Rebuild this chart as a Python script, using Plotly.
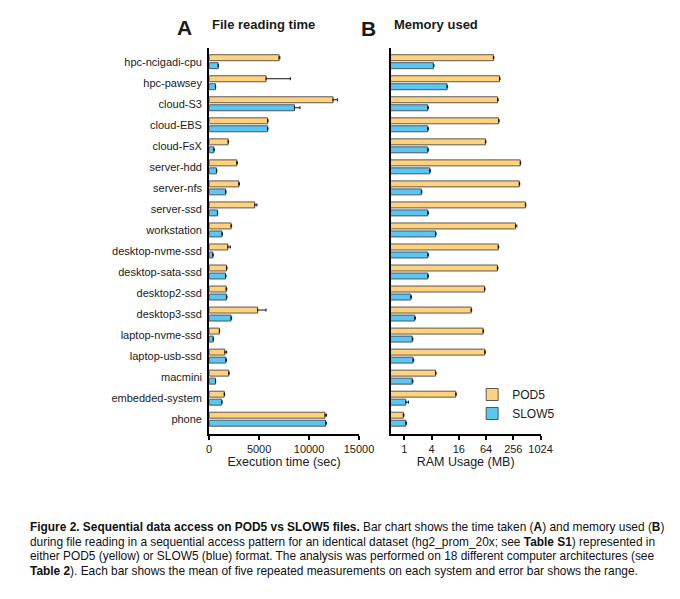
import plotly.graph_objects as go

systems = ["hpc-ncigadi-cpu", "hpc-pawsey", "cloud-S3", "cloud-EBS", "cloud-FsX",
           "server-hdd", "server-nfs", "server-ssd", "workstation", "desktop-nvme-ssd",
           "desktop-sata-ssd", "desktop2-ssd", "desktop3-ssd", "laptop-nvme-ssd",
           "laptop-usb-ssd", "macmini", "embedded-system", "phone"]

# Panel A: execution time (sec), mean and (max - mean)
pod5_time = [7000, 5700, 12400, 5850, 1900, 2770, 2970, 4560, 2190, 1870,
             1730, 1700, 4850, 1020, 1570, 1960, 1510, 11600]
pod5_time_err = [80, 2430, 450, 40, 40, 40, 50, 220, 60, 250,
                 60, 60, 840, 30, 180, 30, 40, 150]
slow5_time = [900, 630, 8540, 5850, 470, 730, 1640, 830, 1280, 370,
              1640, 1730, 2190, 400, 1670, 630, 1250, 11650]
slow5_time_err = [30, 20, 550, 30, 20, 30, 50, 20, 50, 20,
                  40, 50, 60, 20, 50, 20, 40, 80]

# Panel B: RAM usage (MB)
pod5_mem = [93, 127, 115, 121, 62, 365, 347, 474, 286, 119,
            114, 59, 30, 55, 60, 4.9, 13.7, 0.95]
pod5_mem_err = [2, 3, 3, 3, 1.5, 8, 8, 10, 20, 3,
                3, 1.5, 0.8, 1.5, 1.5, 0.1, 0.3, 0.03]
slow5_mem = [4.4, 8.8, 3.3, 3.3, 3.3, 3.65, 2.38, 3.3, 4.9, 3.3,
             3.3, 1.39, 1.7, 1.5, 1.56, 1.5, 1.08, 1.08]
slow5_mem_err = [0.1, 0.25, 0.08, 0.08, 0.08, 0.1, 0.06, 0.08, 0.12, 0.08,
                 0.08, 0.04, 0.05, 0.04, 0.05, 0.05, 0.15, 0.04]

time_ticks = [0, 5000, 10000, 15000]
mem_ticks = [1, 4, 16, 64, 256, 1024]

POD5_COLOR = "#FFD27F"
SLOW5_COLOR = "#5CC6F2"
EDGE = "#333333"
TXT = "#1a1a1a"
FONT = "Liberation Sans, Arial, sans-serif"

# the page body has an 8px margin on every side; size the figure so that the
# page does not overflow the 680x599 window, and lay out in window pixels
OFF = 8
W, H = 680 - 2 * OFF, 599 - 2 * OFF


def px_x(v):
    return (v - OFF) / W


def px_y(v):
    return 1 - (v - OFF) / H


fig = go.Figure()


def add_bars(x, err, name, color, xa, ya, show):
    fig.add_trace(go.Bar(
        y=systems, x=x, orientation="h", name=name,
        marker=dict(color=color, line=dict(color=EDGE, width=0.8)),
        error_x=dict(type="data", array=err, arrayminus=[0] * len(err),
                     symmetric=False, color="#111111", thickness=1, width=1.5),
        xaxis=xa, yaxis=ya, showlegend=show,
    ))


add_bars(pod5_time, pod5_time_err, "POD5", POD5_COLOR, "x", "y", False)
add_bars(slow5_time, slow5_time_err, "SLOW5", SLOW5_COLOR, "x", "y", False)
add_bars(pod5_mem, pod5_mem_err, "POD5", POD5_COLOR, "x2", "y2", True)
add_bars(slow5_mem, slow5_mem_err, "SLOW5", SLOW5_COLOR, "x2", "y2", True)

ydom = [px_y(433.5), px_y(47.7)]
yrange = [len(systems) - 1 + 0.68, -0.666]

axis_common = dict(showline=True, linecolor="#000000", linewidth=2,
                   showgrid=False, zeroline=False,
                   tickfont=dict(size=11, color=TXT, family=FONT))

fig.update_layout(
    width=W, height=H,
    margin=dict(l=0, r=0, t=0, b=0),
    paper_bgcolor="white", plot_bgcolor="white",
    font=dict(family=FONT, color=TXT),
    barmode="group", bargap=0.24, bargroupgap=0.25,
    xaxis=dict(domain=[px_x(211.7), px_x(365.7)], range=[0, 15000],
               tickvals=time_ticks, ticktext=[str(t) for t in time_ticks],
               ticks="outside", ticklen=4, tickwidth=1.5,
               tickcolor="#000000", anchor="y",
               title=dict(text="Execution time (sec)", font=dict(size=12.5, color=TXT),
                          standoff=4),
               **axis_common),
    yaxis=dict(domain=ydom, range=yrange, categoryorder="array",
               categoryarray=systems, ticks="", anchor="x",
               ticklabelstandoff=3, **axis_common),
    xaxis2=dict(domain=[px_x(398.3), px_x(552.3)], type="log",
                range=[-0.30103, 3.0103], tickvals=mem_ticks,
                ticktext=[str(t) for t in mem_ticks],
                ticks="outside", ticklen=4, tickwidth=1.5, tickcolor="#000000",
                anchor="y2",
                title=dict(text="RAM Usage (MB)", font=dict(size=12.5, color=TXT),
                           standoff=4),
                **axis_common),
    yaxis2=dict(domain=ydom, range=yrange, categoryorder="array",
                categoryarray=systems, ticks="", showticklabels=False,
                anchor="x2", **axis_common),
    legend=dict(x=px_x(482), y=px_y(380), xanchor="left", yanchor="top",
                font=dict(size=12, color=TXT, family=FONT),
                bgcolor="rgba(0,0,0,0)", tracegroupgap=0),
)

annotations = [
    dict(text="<b>A</b>", x=px_x(186), y=px_y(27.5), font=dict(size=21)),
    dict(text="<b>File reading time</b>", x=px_x(212.5), y=px_y(24.7),
         xanchor="left", font=dict(size=13)),
    dict(text="<b>B</b>", x=px_x(375), y=px_y(28), font=dict(size=21)),
    dict(text="<b>Memory used</b>", x=px_x(399.3), y=px_y(25),
         xanchor="left", font=dict(size=13)),
]

caption_lines = [
    "<b>Figure 2. Sequential data access on POD5 vs SLOW5 files.</b> Bar chart shows the time taken (<b>A</b>) and memory used (<b>B</b>)",
    "during file reading in a sequential access pattern for an identical dataset (hg2_prom_20x; see <b>Table S1</b>) represented in",
    "either POD5 (yellow) or SLOW5 (blue) format. The analysis was performed on 18 different computer architectures (see",
    "<b>Table 2</b>). Each bar shows the mean of five repeated measurements on each system and error bar shows the range.",
]
caption_y = [526.7, 541.5, 556.2, 571]
for line, cy in zip(caption_lines, caption_y):
    annotations.append(dict(text=line, x=px_x(25), y=px_y(cy), xanchor="left",
                            font=dict(size=11.9, family=FONT, color="#111111")))

for a in annotations:
    a.setdefault("xanchor", "center")
    a.update(xref="paper", yref="paper", yanchor="middle", showarrow=False)
    a["font"].setdefault("color", TXT)
    a["font"].setdefault("family", FONT)

fig.update_layout(annotations=annotations)

fig.write_html("out.html")
